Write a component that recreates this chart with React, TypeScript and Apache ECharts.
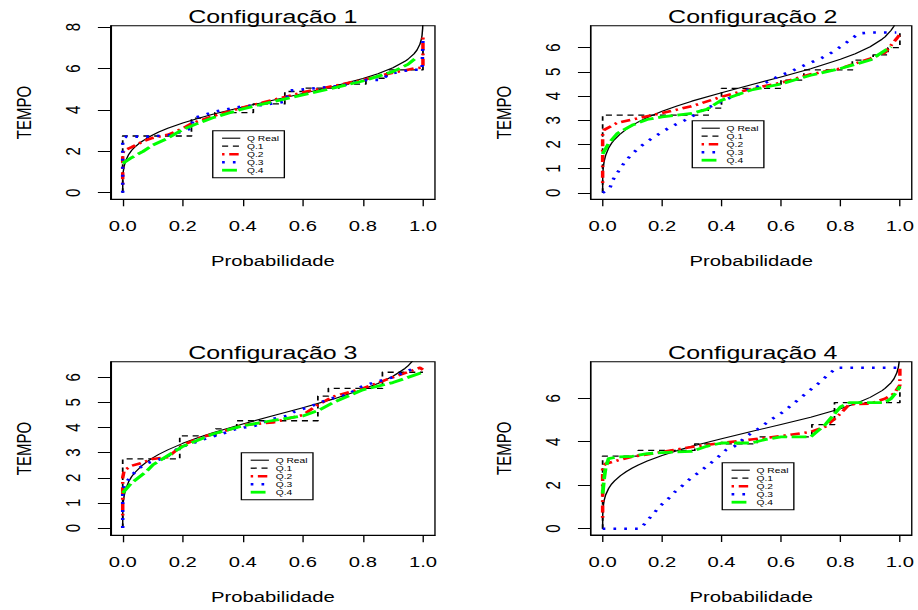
import React, { useEffect, useRef } from "react";
import * as echarts from "echarts";

// ---------- data ----------
const titles = ["Configuração 1", "Configuração 2", "Configuração 3", "Configuração 4"];
const seriesNames = ["Q Real", "Q.1", "Q.2", "Q.3", "Q.4"];
const xTicks = [0, 0.2, 0.4, 0.6, 0.8, 1.0];
const yTicksP1 = [0, 2, 4, 6, 8];
const yTicksP2 = [0, 1, 2, 3, 4, 5, 6];
const yTicksP3 = [0, 1, 2, 3, 4, 5, 6];
const yTicksP4 = [0, 2, 4, 6];

// true quantile curve (same in every panel)
const pReal = [0, 0.0002, 0.001, 0.002, 0.005, 0.01, 0.02, 0.03, 0.04, 0.06, 0.08, 0.1, 0.12, 0.15, 0.2, 0.25, 0.3, 0.4, 0.5, 0.6, 0.7, 0.8, 0.85, 0.9, 0.94, 0.95, 0.97, 0.98, 0.99, 0.995, 0.997, 0.999, 0.9997];
const qReal = [0, 0.58, 0.87, 1.04, 1.3, 1.55, 1.85, 2.05, 2.2, 2.44, 2.63, 2.79, 2.93, 3.11, 3.37, 3.59, 3.79, 4.14, 4.47, 4.79, 5.13, 5.52, 5.75, 6.04, 6.35, 6.45, 6.71, 6.89, 7.18, 7.43, 7.61, 7.94, 8.27];

// Configuração 1
const p1Q1 = [[0, 0], [0, 2.74], [0.229, 2.74], [0.229, 3.6], [0.307, 3.6], [0.307, 3.87], [0.435, 3.87], [0.435, 4.29], [0.54, 4.29], [0.54, 4.89], [0.6, 4.89], [0.6, 5.05], [0.72, 5.05], [0.72, 5.25], [0.81, 5.25], [0.81, 5.53], [0.88, 5.53], [0.88, 5.94], [1.0, 5.94], [1.0, 7.47]];
const p1Q2 = [[0, 0.4], [0, 1.9], [0.005, 2.05], [0.03, 2.2], [0.07, 2.5], [0.1, 2.65], [0.15, 2.8], [0.2, 3.1], [0.23, 3.35], [0.3, 3.7], [0.4, 4.12], [0.5, 4.48], [0.6, 4.85], [0.7, 5.15], [0.8, 5.45], [0.9, 5.8], [0.97, 6.0], [1.0, 6.05], [1.0, 7.6]];
const p1Q3 = [[0, 0], [0, 2.6], [0.012, 2.71], [0.079, 2.71], [0.162, 2.79], [0.229, 3.11], [0.235, 3.6], [0.307, 3.92], [0.396, 4.16], [0.468, 4.24], [0.541, 4.4], [0.557, 4.94], [0.641, 5.05], [0.73, 5.16], [0.757, 5.29], [0.813, 5.45], [0.858, 5.45], [0.885, 5.69], [0.919, 5.85], [0.963, 5.94], [0.997, 5.94], [1.0, 7.39]];
const p1Q4 = [[0, 1.42], [0.03, 1.7], [0.068, 2.0], [0.1, 2.3], [0.146, 2.6], [0.2, 3.05], [0.25, 3.35], [0.3, 3.62], [0.4, 4.05], [0.5, 4.4], [0.6, 4.73], [0.7, 5.05], [0.8, 5.4], [0.9, 5.85], [0.95, 6.2], [0.98, 6.55]];

// Configuração 2
const p2Q1 = [[0, 0], [0, 3.21], [0.355, 3.21], [0.355, 3.5], [0.4, 3.5], [0.4, 4.32], [0.6, 4.32], [0.6, 4.66], [0.677, 4.66], [0.677, 5.08], [0.84, 5.08], [0.84, 5.49], [0.91, 5.49], [0.91, 5.7], [0.96, 5.7], [0.96, 6.0], [1.0, 6.0], [1.0, 6.6]];
const p2Q2 = [[0, 0.4], [0, 2.5], [0.005, 2.6], [0.05, 2.9], [0.1, 3.03], [0.2, 3.3], [0.3, 3.58], [0.4, 3.97], [0.5, 4.3], [0.6, 4.55], [0.7, 4.9], [0.8, 5.14], [0.9, 5.55], [0.95, 5.8], [0.99, 6.39], [1.0, 6.55]];
const p2Q3 = [[0, 0], [0.024, 0.18], [0.034, 0.52], [0.052, 0.87], [0.071, 1.21], [0.093, 1.53], [0.119, 1.83], [0.147, 2.1], [0.177, 2.34], [0.21, 2.59], [0.241, 2.8], [0.277, 3.0], [0.308, 3.21], [0.343, 3.46], [0.382, 3.67], [0.416, 3.87], [0.452, 4.04], [0.488, 4.25], [0.524, 4.41], [0.56, 4.62], [0.593, 4.83], [0.632, 5.01], [0.666, 5.21], [0.701, 5.39], [0.736, 5.57], [0.771, 5.8], [0.804, 6.07], [0.832, 6.32], [0.862, 6.59], [0.904, 6.63], [0.946, 6.63], [0.988, 6.63]];
const p2Q4 = [[0, 1.6], [0.02, 2.04], [0.05, 2.46], [0.1, 2.8], [0.15, 3.03], [0.2, 3.14], [0.3, 3.28], [0.35, 3.45], [0.4, 3.83], [0.5, 4.25], [0.6, 4.5], [0.7, 4.86], [0.8, 5.14], [0.9, 5.49], [0.97, 6.04]];

// Configuração 3
const p3Q1 = [[0, 0], [0, 2.75], [0.19, 2.75], [0.19, 3.67], [0.31, 3.67], [0.31, 3.95], [0.38, 3.95], [0.38, 4.27], [0.65, 4.27], [0.65, 5.25], [0.685, 5.25], [0.685, 5.56], [0.865, 5.56], [0.865, 6.2], [1.0, 6.2]];
const p3Q2 = [[0, 0.5], [0, 2.0], [0.005, 2.3], [0.03, 2.48], [0.06, 2.58], [0.1, 2.75], [0.15, 2.82], [0.2, 3.31], [0.27, 3.64], [0.35, 3.9], [0.4, 4.1], [0.5, 4.2], [0.6, 4.5], [0.65, 4.9], [0.7, 5.23], [0.8, 5.56], [0.9, 6.0], [0.97, 6.29], [0.99, 6.38], [1.0, 6.3]];
const p3Q3 = [[0, 0], [0, 1.5], [0.01, 1.79], [0.029, 2.08], [0.051, 2.36], [0.081, 2.58], [0.146, 2.82], [0.19, 3.22], [0.229, 3.35], [0.262, 3.51], [0.346, 3.81], [0.379, 3.95], [0.44, 4.07], [0.5, 4.34], [0.546, 4.46], [0.574, 4.64], [0.613, 4.79], [0.646, 4.93], [0.685, 5.13], [0.746, 5.3], [0.796, 5.63], [0.836, 5.79], [0.9, 6.0], [0.937, 6.2], [0.978, 6.38]];
const p3Q4 = [[0, 1.39], [0.029, 1.79], [0.079, 2.25], [0.101, 2.52], [0.2, 3.25], [0.3, 3.74], [0.4, 4.07], [0.5, 4.28], [0.6, 4.46], [0.652, 4.68], [0.7, 4.99], [0.8, 5.5], [0.9, 5.79], [1.0, 6.2]];

// Configuração 4
const p4Q1 = [[0, 0], [0, 3.34], [0.12, 3.34], [0.12, 3.6], [0.31, 3.6], [0.31, 3.9], [0.52, 3.9], [0.52, 4.22], [0.704, 4.22], [0.704, 4.79], [0.78, 4.79], [0.78, 5.8], [1.0, 5.8], [1.0, 6.6]];
const p4Q2 = [[0, 0.5], [0, 2.8], [0.01, 2.99], [0.05, 3.14], [0.1, 3.31], [0.2, 3.53], [0.3, 3.76], [0.4, 3.94], [0.5, 4.1], [0.6, 4.26], [0.7, 4.45], [0.75, 4.7], [0.8, 5.29], [0.83, 5.72], [0.9, 5.75], [0.95, 5.98], [0.98, 6.21], [1.0, 6.6], [1.0, 7.4]];
const p4Q3 = [[0, 0], [0.127, 0], [0.149, 0.35], [0.171, 0.69], [0.193, 1.04], [0.221, 1.38], [0.243, 1.69], [0.27, 2.0], [0.299, 2.35], [0.327, 2.62], [0.354, 2.91], [0.382, 3.22], [0.416, 3.63], [0.443, 3.79], [0.471, 4.1], [0.499, 4.39], [0.532, 4.66], [0.56, 4.97], [0.593, 5.23], [0.621, 5.52], [0.649, 5.83], [0.677, 6.14], [0.704, 6.44], [0.732, 6.75], [0.76, 7.1], [0.788, 7.4], [1.0, 7.4]];
const p4Q4 = [[0, 1.61], [0.005, 2.3], [0.01, 2.8], [0.02, 3.22], [0.05, 3.3], [0.1, 3.33], [0.15, 3.45], [0.2, 3.5], [0.3, 3.56], [0.35, 3.79], [0.4, 3.94], [0.5, 3.94], [0.55, 4.11], [0.6, 4.22], [0.7, 4.22], [0.75, 4.8], [0.8, 5.6], [0.83, 5.8], [0.9, 5.8], [0.95, 5.8], [0.97, 5.98], [0.99, 6.3], [1.0, 6.55]];

// ---------- layout / style (chart coordinates, drawn 680 px wide and stretched 1.35x) ----------
const SX = 1.35;
const CW = 918 / SX;
const CH = 610;
const FONT = "'Liberation Sans', Arial, Helvetica, sans-serif";

const grids = [
  { left: 82, top: 25.7, width: 240.2, height: 173.6 },
  { left: 437.6, top: 25.7, width: 240, height: 173.6 },
  { left: 82, top: 361.7, width: 240.2, height: 173.6 },
  { left: 437.6, top: 361.7, width: 240, height: 173.3 },
];
const yRanges = [
  [-0.318, 8.07],
  [-0.27, 6.91],
  [-0.29, 6.62],
  [-0.29, 7.68],
];
const yTickSets = [yTicksP1, yTicksP2, yTicksP3, yTicksP4];
const titleTops = [7, 7, 343, 343];
const legendPos = [
  [157.6, 130.7],
  [512.8, 120.7],
  [178.8, 452.7],
  [535, 462.7],
];

const lineStyles = [
  { color: "#000000", width: 1.1, type: "solid" as any },
  { color: "#000000", width: 1.3, type: [4.5, 3.5] },
  { color: "#ff0000", width: 2.6, type: [1.8, 3.5, 7, 3.5] },
  { color: "#0000ff", width: 2.6, type: [2, 6] },
  { color: "#00ff00", width: 2.8, type: [11, 3.5] },
];

const panelData = [
  [p1Q1, p1Q2, p1Q3, p1Q4],
  [p2Q1, p2Q2, p2Q3, p2Q4],
  [p3Q1, p3Q2, p3Q3, p3Q4],
  [p4Q1, p4Q2, p4Q3, p4Q4],
];

function buildOption() {
  const realData = pReal.map((p, i) => [p, qReal[i]]);
  const series: any[] = [];
  panelData.forEach((qs, gi) => {
    const all = [realData, ...qs];
    all.forEach((d, si) => {
      const ls = lineStyles[si];
      series.push({
        type: "line",
        name: seriesNames[si],
        xAxisIndex: gi,
        yAxisIndex: gi,
        data: d,
        showSymbol: false,
        symbol: "none",
        smooth: false,
        clip: true,
        lineStyle: { color: ls.color, width: ls.width, type: ls.type, cap: "butt", join: "round" },
        itemStyle: { color: ls.color },
        emphasis: { disabled: true },
      });
    });
  });

  return {
    animation: false,
    backgroundColor: "#ffffff",
    textStyle: { fontFamily: FONT, color: "#000" },
    title: titles.map((t, i) => ({
      text: t,
      left: grids[i].left + grids[i].width / 2,
      top: titleTops[i],
      textAlign: "center",
      padding: 0,
      textStyle: { fontSize: 18.5, fontWeight: "normal", color: "#000", fontFamily: FONT },
    })),
    grid: grids.map((g) => ({
      ...g,
      show: true,
      borderColor: "#000",
      borderWidth: 1,
      backgroundColor: "transparent",
      containLabel: false,
    })),
    legend: legendPos.map(([l, t]) => ({
      left: l,
      top: t,
      orient: "vertical",
      padding: [3.5, 4, 3.5, 5.5],
      itemWidth: 13.5,
      itemHeight: 8,
      itemGap: 0,
      borderColor: "#000",
      borderWidth: 1,
      backgroundColor: "#fff",
      selectedMode: false,
      itemStyle: { opacity: 0 },
      textStyle: { fontSize: 7.6, color: "#000", fontFamily: FONT, lineHeight: 8 },
      data: seriesNames.map((n, k) => ({
        name: n,
        lineStyle: { width: lineStyles[k].width, type: lineStyles[k].type, color: lineStyles[k].color },
        itemStyle: { opacity: 0 },
      })),
    })),
    xAxis: grids.map((_, i) => ({
      type: "value",
      gridIndex: i,
      min: -0.04,
      max: 1.04,
      name: "Probabilidade",
      nameLocation: "middle",
      nameGap: 54.5,
      nameTextStyle: { fontSize: 15, color: "#000", fontFamily: FONT },
      axisLine: { show: true, onZero: false, lineStyle: { color: "#000", width: 1 } },
      axisTick: { show: true, length: 7, customValues: xTicks, lineStyle: { color: "#000", width: 1 } },
      axisLabel: {
        show: true,
        customValues: xTicks,
        margin: 19,
        fontSize: 15,
        color: "#000",
        fontFamily: FONT,
        formatter: (v: number) => v.toFixed(1),
      },
      splitLine: { show: false },
    })),
    yAxis: grids.map((_, i) => ({
      type: "value",
      gridIndex: i,
      min: yRanges[i][0],
      max: yRanges[i][1],
      name: "TEMPO",
      nameLocation: "middle",
      nameRotate: 90,
      nameGap: 56.5,
      nameTextStyle: { fontSize: 15, color: "#000", fontFamily: FONT },
      axisLine: { show: true, onZero: false, lineStyle: { color: "#000", width: 1 } },
      axisTick: { show: true, length: 9.5, customValues: yTickSets[i], lineStyle: { color: "#000", width: 1 } },
      axisLabel: {
        show: true,
        customValues: yTickSets[i],
        rotate: 90,
        margin: 20,
        fontSize: 15,
        color: "#000",
        fontFamily: FONT,
        formatter: (v: number) => String(v),
      },
      splitLine: { show: false },
    })),
    series,
  };
}

export default function App() {
  const ref = useRef<HTMLDivElement>(null);
  useEffect(() => {
    if (!ref.current) return;
    const chart = echarts.init(ref.current, null, { renderer: "svg" });
    chart.setOption(buildOption() as any);
    return () => chart.dispose();
  }, []);
  return (
    <div
      ref={ref}
      style={{
        position: "absolute",
        left: 0,
        top: 0,
        width: CW,
        height: CH,
        transform: `scaleX(${SX})`,
        transformOrigin: "0 0",
        background: "#fff",
      }}
    />
  );
}
